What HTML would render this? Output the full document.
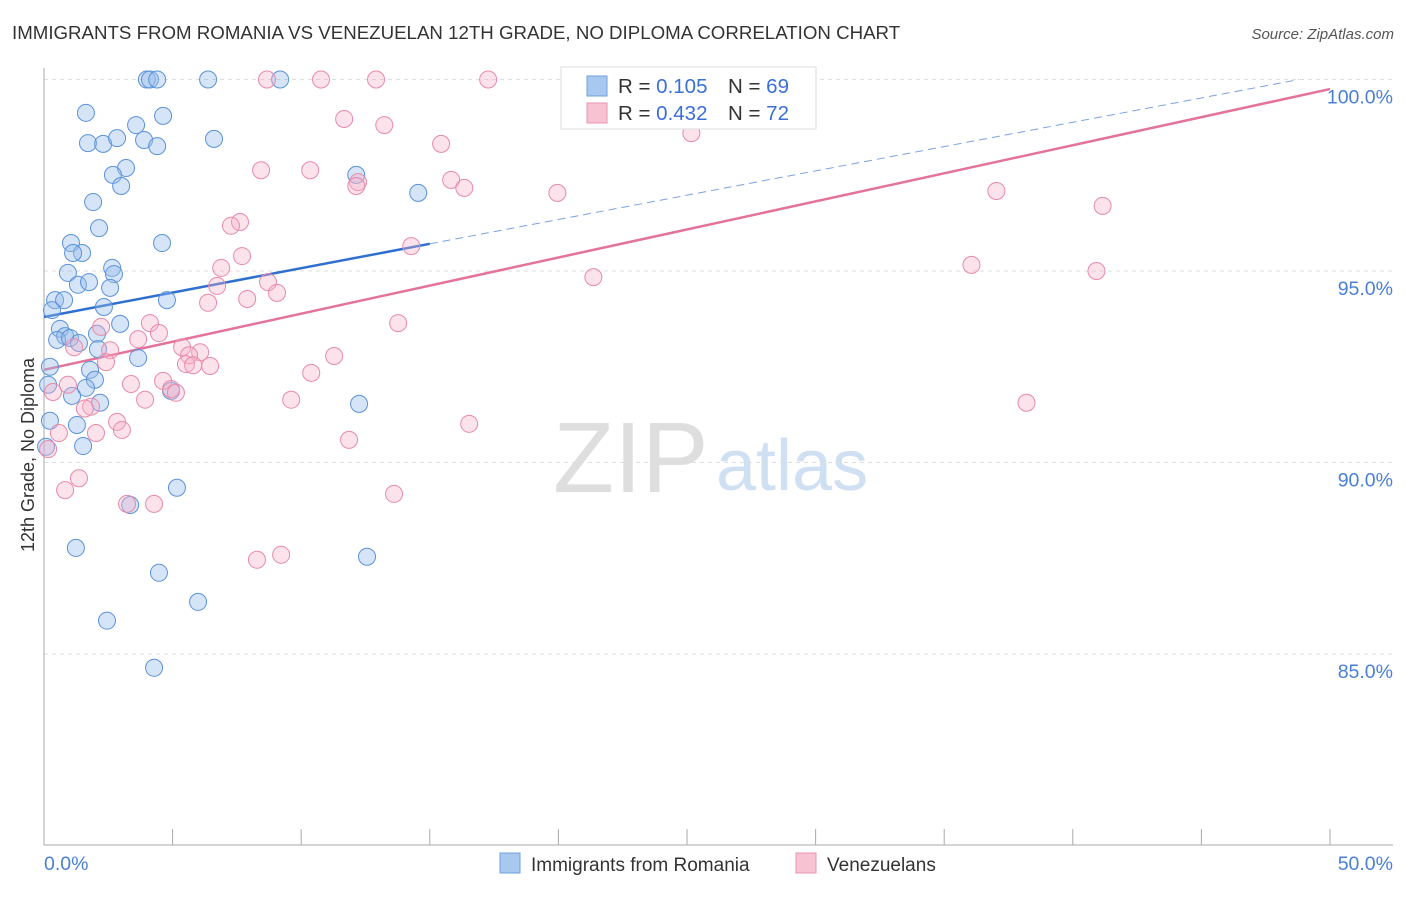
<!DOCTYPE html>
<html><head><meta charset="utf-8"><style>
body{margin:0;background:#fff;font-family:"Liberation Sans",sans-serif;}
svg text{font-family:"Liberation Sans",sans-serif;}
</style></head><body>
<svg id="chart" width="1406" height="892" xmlns="http://www.w3.org/2000/svg">
<text x="12" y="39" font-size="18.7" fill="#333">IMMIGRANTS FROM ROMANIA VS VENEZUELAN 12TH GRADE, NO DIPLOMA CORRELATION CHART</text>
<text x="1394" y="39" font-size="15" fill="#555" text-anchor="end" font-style="italic">Source: ZipAtlas.com</text>
<g>
<text x="553" y="492" font-size="100" fill="#dedede" font-family="Liberation Serif, serif">ZIP</text>
<text x="716" y="490" font-size="72" fill="#d0e0f3">atlas</text>
</g>
<g id="grid"></g>
<g id="axes"></g>
<g id="trends"></g>
<g id="points"></g>
<text transform="translate(34,455) rotate(-90)" font-size="18" fill="#333" text-anchor="middle">12th Grade, No Diploma</text>
<g>
<rect x="561" y="67" width="255" height="62" fill="#fff" stroke="#ddd"/>
<rect x="587" y="76" width="20" height="20" fill="#a9c8ef" stroke="#6fa0de"/>
<text x="618" y="93" font-size="20.5" fill="#333">R = <tspan fill="#3a6fd8">0.105</tspan><tspan x="728">N = </tspan><tspan fill="#3a6fd8">69</tspan></text>
<rect x="587" y="103" width="20" height="20" fill="#f7c3d2" stroke="#e895b0"/>
<text x="618" y="120" font-size="20.5" fill="#333">R = <tspan fill="#3a6fd8">0.432</tspan><tspan x="728">N = </tspan><tspan fill="#3a6fd8">72</tspan></text>
</g>
<g>
<rect x="500" y="853" width="20" height="20" fill="#a9c8ef" stroke="#6fa0de"/>
<text x="531" y="871" font-size="19" fill="#333">Immigrants from Romania</text>
<rect x="796" y="853" width="20" height="20" fill="#f7c3d2" stroke="#e895b0"/>
<text x="827" y="871" font-size="19" fill="#333">Venezuelans</text>
</g>
</svg>
<script>
const blueX=[4.0,4.12,4.4,6.38,9.18,1.63,4.63,3.58,1.71,2.30,2.84,3.89,4.40,6.61,3.19,2.68,3.00,12.14,14.55,1.91,2.14,1.05,4.59,1.48,1.13,0.93,2.65,2.72,1.32,1.75,2.57,0.43,0.78,2.33,4.78,0.31,2.96,0.62,0.82,2.06,0.51,1.01,1.36,2.10,3.66,0.23,1.79,1.98,0.16,1.63,1.09,2.18,4.94,12.25,0.23,1.28,1.52,0.08,5.17,3.35,1.24,4.47,12.56,5.99,2.45,4.28];
const blueY=[100,100,100,100,100,99.13,99.05,98.81,98.34,98.32,98.47,98.42,98.26,98.45,97.69,97.51,97.22,97.51,97.04,96.80,96.12,95.73,95.73,95.47,95.47,94.95,95.08,94.92,94.64,94.71,94.56,94.24,94.24,94.06,94.24,93.98,93.62,93.49,93.30,93.36,93.20,93.25,93.12,92.96,92.73,92.50,92.42,92.16,92.03,91.95,91.74,91.56,91.87,91.53,91.09,90.98,90.43,90.41,89.34,88.89,87.77,87.12,87.54,86.36,85.87,84.64];
const pinkX=[8.67,10.77,12.91,17.27,11.67,13.23,15.44,25.17,8.44,10.35,12.21,12.14,15.83,16.34,19.96,7.62,7.27,14.28,7.70,6.89,8.71,6.73,9.06,7.90,6.38,21.36,36.06,40.92,37.03,41.16,4.12,2.22,4.47,13.77,3.66,5.37,6.07,5.64,1.17,2.57,2.41,5.52,5.80,6.46,11.28,10.39,3.38,4.63,0.93,0.35,4.94,5.13,3.93,1.83,1.59,9.61,38.20,16.53,2.84,3.03,2.02,0.58,11.86,0.16,0.82,1.36,3.23,4.28,13.61,8.28,9.22];
const pinkY=[100,100,100,100,98.97,98.81,98.32,98.60,97.63,97.63,97.32,97.22,97.38,97.17,97.04,96.28,96.18,95.65,95.39,95.08,94.71,94.61,94.43,94.27,94.17,94.84,95.16,95.00,97.09,96.70,93.64,93.54,93.38,93.64,93.22,93.01,92.88,92.80,93.01,92.93,92.62,92.57,92.54,92.52,92.78,92.34,92.05,92.13,92.03,91.84,91.92,91.82,91.64,91.46,91.41,91.64,91.56,91.01,91.06,90.85,90.77,90.77,90.59,90.35,89.28,89.59,88.92,88.92,89.18,87.46,87.59];
const blueTrendX=[0,15,48.8];
const blueTrendY=[93.80,95.71,100];
const pinkTrendX=[0,50];
const pinkTrendY=[92.42,99.75];
const yTicks=[100,95,90,85];
const yTickLabels=["100.0%","95.0%","90.0%","85.0%"];
const xTickCount=10;

const NS="http://www.w3.org/2000/svg";
const sx=v=>44+(v/50)*1286;
const sy=v=>79.5+(100-v)*38.3;
function mk(tag,attrs,parent){const e=document.createElementNS(NS,tag);for(const k in attrs)e.setAttribute(k,attrs[k]);document.getElementById(parent).appendChild(e);return e;}

yTicks.forEach((t,i)=>{
  const l=mk('line',{x1:44,x2:1393,y1:sy(t),y2:sy(t),stroke:'#ddd','stroke-dasharray':'4,4'},'grid');
  
  
  const tx=mk('text',{x:1393,y:sy(t)+24,'font-size':19.5,fill:'#4a7fd6','text-anchor':'end'},'grid');
  tx.textContent=yTickLabels[i];
  
  
});
const ax=mk('line',{x1:44,x2:1393,y1:845,y2:845,stroke:'#aaa'},'axes');


const ay=mk('line',{x1:44,x2:44,y1:68,y2:845,stroke:'#aaa'},'axes');


for(let i=0;i<=xTickCount;i++){
  const t=mk('line',{x1:sx(i*5),x2:sx(i*5),y1:829,y2:845,stroke:'#aaa'},'axes');
  
  
}
const xl0=mk('text',{x:44,y:870,'font-size':19.5,fill:'#4a7fd6'},'axes');xl0.textContent='0.0%';


const xl1=mk('text',{x:1393,y:870,'font-size':19.5,fill:'#4a7fd6','text-anchor':'end'},'axes');xl1.textContent='50.0%';



blueX.forEach((x,i)=>{
  const c=mk('circle',{cx:sx(x),cy:sy(blueY[i]),r:8.5,fill:'rgba(150,188,236,0.4)',stroke:'#5b93d9','stroke-width':1},'points');
  
  
});
pinkX.forEach((x,i)=>{
  const c=mk('circle',{cx:sx(x),cy:sy(pinkY[i]),r:8.5,fill:'rgba(245,175,198,0.35)',stroke:'#e88aa8','stroke-width':1},'points');
  
  
});
const bt=mk('line',{x1:sx(blueTrendX[0]),y1:sy(blueTrendY[0]),x2:sx(blueTrendX[1]),y2:sy(blueTrendY[1]),stroke:'#2f6fd0','stroke-width':2.5},'trends');


const bd=mk('line',{x1:sx(blueTrendX[1]),y1:sy(blueTrendY[1]),x2:sx(blueTrendX[2]),y2:sy(blueTrendY[2]),stroke:'#7aa3e0','stroke-width':1,'stroke-dasharray':'8,5'},'trends');


const pt=mk('line',{x1:sx(pinkTrendX[0]),y1:sy(pinkTrendY[0]),x2:sx(pinkTrendX[1]),y2:sy(pinkTrendY[1]),stroke:'#e4729a','stroke-width':2.5},'trends');


</script>
</body></html>
